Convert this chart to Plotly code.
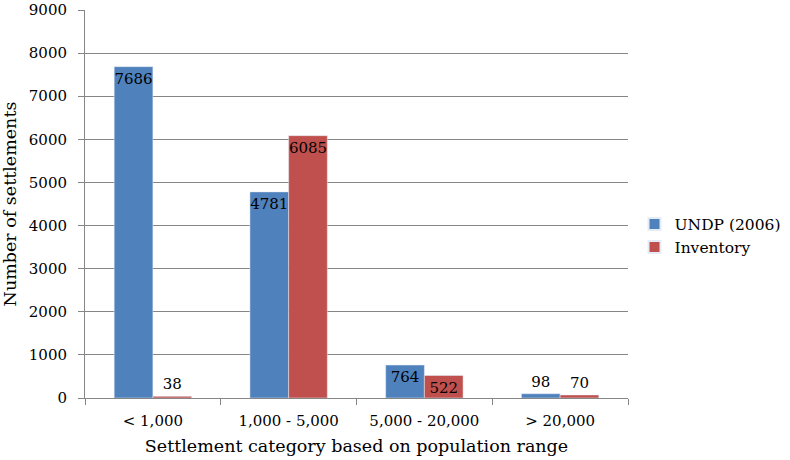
import plotly.graph_objects as go

categories = ["< 1,000", "1,000 - 5,000", "5,000 - 20,000", "> 20,000"]
undp = [7686, 4781, 764, 98]
inventory = [38, 6085, 522, 70]
y_ticks = [0, 1000, 2000, 3000, 4000, 5000, 6000, 7000, 8000, 9000]

FONT = "DejaVu Serif"

fig = go.Figure()
fig.add_trace(go.Bar(
    x=categories, y=undp, name="UNDP (2006)",
    marker=dict(color="#4F81BD"),
    text=[str(v) for v in undp],
    textposition=["inside", "inside", "inside", "outside"],
    insidetextanchor="end", constraintext="none", textangle=0,
    textfont=dict(family=FONT, size=15, color="black"),
))
fig.add_trace(go.Bar(
    x=categories, y=inventory, name="Inventory",
    marker=dict(color="#C0504D"),
    text=[str(v) for v in inventory],
    textposition=["outside", "inside", "inside", "outside"],
    insidetextanchor="end", constraintext="none", textangle=0,
    textfont=dict(family=FONT, size=15, color="black"),
))

fig.update_layout(
    width=790, height=460,
    margin=dict(l=85, r=162, t=10, b=62, autoexpand=False),
    paper_bgcolor="white", plot_bgcolor="white",
    font=dict(family=FONT, size=15, color="black"),
    barmode="group", bargap=0.43, bargroupgap=0,
    showlegend=True,
    legend=dict(x=1.012, y=0.418, xanchor="left", yanchor="middle",
                font=dict(family=FONT, size=15.5), itemsizing="constant",
                tracegroupgap=8),
    xaxis=dict(
        title=dict(text="Settlement category based on population range",
                   font=dict(family=FONT, size=17.5), standoff=10),
        showline=True, linecolor="#868686", linewidth=1,
        ticks="outside", tickson="boundaries", ticklen=6, tickcolor="#868686",
        tickfont=dict(family=FONT, size=15), showgrid=False, ticklabelstandoff=9,
    ),
    yaxis=dict(
        title=dict(text="Number of settlements", font=dict(family=FONT, size=17.5), standoff=10),
        range=[0, 9000], tickvals=y_ticks,
        showline=True, linecolor="#868686", linewidth=1,
        ticks="outside", ticklen=6, tickcolor="#868686",
        showgrid=True, gridcolor="#868686", gridwidth=1,
        tickfont=dict(family=FONT, size=15), zeroline=False, ticklabelstandoff=8,
        ticklabeloverflow="allow",
    ),
    uniformtext=dict(mode=False),
)

fig.write_html("out.html")
